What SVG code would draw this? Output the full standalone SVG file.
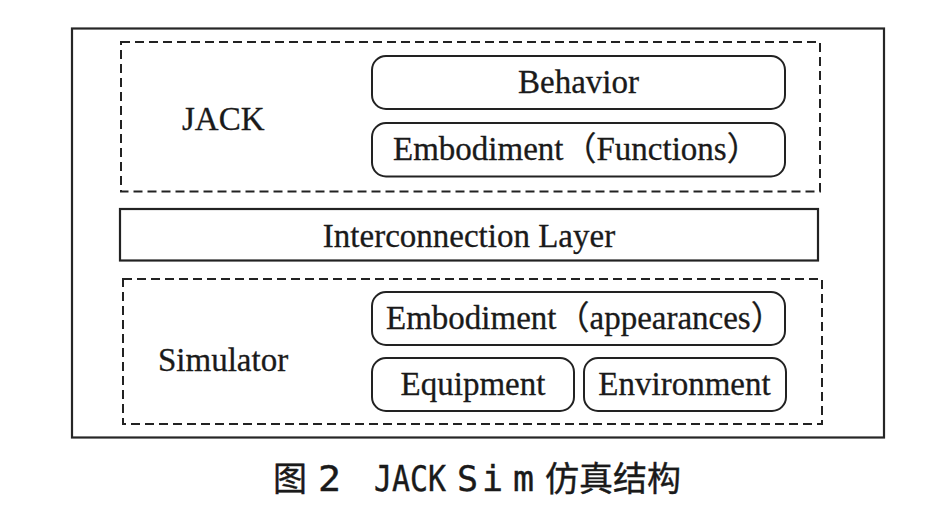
<svg xmlns="http://www.w3.org/2000/svg" width="948" height="511" viewBox="0 0 948 511">
<style>
.outer{fill:none;stroke:#262626;stroke-width:2.2}
.dash{fill:none;stroke:#222;stroke-width:2;stroke-dasharray:9 5}
.rbox{fill:#fff;stroke:#222;stroke-width:2}
.bar{fill:#fff;stroke:#222;stroke-width:2.2}
.lbl{font-family:"Liberation Serif","Noto Sans CJK SC",serif;font-size:33px;fill:#1a1a1a;stroke:#1a1a1a;stroke-width:0.3}
.cap{fill:#1a1a1a;stroke:#1a1a1a;stroke-width:0.4}
.mono{font-family:"DejaVu Sans Mono","Liberation Mono",monospace;font-size:35px}
.cjk{font-family:"Noto Sans CJK SC",sans-serif;font-size:34px}
</style>
<rect width="948" height="511" fill="#fff"/>
<rect class="outer" x="72" y="28.5" width="812" height="409"/>
<g id="jack">
<rect class="dash" x="121" y="42" width="699" height="149.5"/>
<text class="lbl" x="182" y="130">JACK</text>
</g>
<g id="behavior">
<rect class="rbox" x="372" y="56" width="413" height="53" rx="14"/>
<text class="lbl" x="578.5" y="93" text-anchor="middle">Behavior</text>
</g>
<g id="embodiment-functions">
<rect class="rbox" x="372" y="123" width="413" height="53.5" rx="14"/>
<text class="lbl" x="393" y="160">Embodiment（Functions）</text>
</g>
<g id="interconnection">
<rect class="bar" x="120" y="209" width="698" height="51.5"/>
<text class="lbl" x="469" y="247" text-anchor="middle">Interconnection Layer</text>
</g>
<g id="simulator">
<rect class="dash" x="123" y="279" width="699" height="145"/>
<text class="lbl" x="158" y="371">Simulator</text>
</g>
<g id="embodiment-appearances">
<rect class="rbox" x="372" y="292" width="413" height="53" rx="14"/>
<text class="lbl" x="386" y="329">Embodiment（appearances）</text>
</g>
<g id="equipment">
<rect class="rbox" x="372" y="358" width="202" height="53" rx="14"/>
<text class="lbl" x="473" y="395" text-anchor="middle">Equipment</text>
</g>
<g id="environment">
<rect class="rbox" x="584" y="358" width="202" height="53" rx="14"/>
<text class="lbl" x="684.5" y="395" text-anchor="middle">Environment</text>
</g>
<g id="connectors"></g>
<g id="caption">
<text class="cap cjk" x="273" y="491">图</text>
<text class="cap mono" x="318" y="491" textLength="23" lengthAdjust="spacingAndGlyphs">2</text>
<text class="cap mono" x="374" y="491" textLength="72" lengthAdjust="spacingAndGlyphs">JACK</text>
<text class="cap mono" y="491"><tspan x="457">S</tspan><tspan x="482">i</tspan><tspan x="513">m</tspan></text>
<text class="cap cjk" x="545" y="491">仿真结构</text>
</g>
</svg>
